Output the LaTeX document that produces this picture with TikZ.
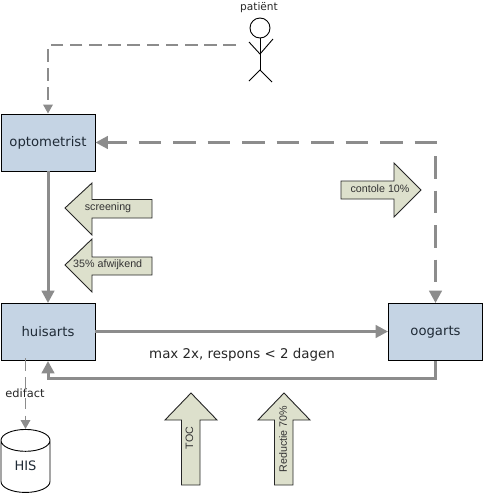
\documentclass[tikz,border=0pt]{standalone}
\usepackage{fontspec}
\setmainfont{DejaVu Sans}
\newfontfamily\arrowfont{Liberation Sans}
\usetikzlibrary{arrows.meta,shapes.geometric}
\definecolor{boxblue}{HTML}{C5D4E4}
\definecolor{arrowfill}{HTML}{DDE0CC}
\definecolor{linkgray}{HTML}{8C8C8C}
\definecolor{inkdark}{HTML}{1F2A36}
\tikzset{
  actorbox/.style={draw=black,line width=0.9pt,fill=boxblue,minimum width=94pt,minimum height=57pt,inner sep=0pt,text=inkdark,font=\fontsize{13.2}{15}\selectfont},
  thicktip/.tip={Triangle[width=12.5pt,length=12.5pt]},
  thicklink/.style={draw=linkgray,line width=3pt,-thicktip},
  thinlink/.style={draw=linkgray,line width=1.8pt,-{Triangle[width=9.5pt,length=9pt]}},
  longdash/.style={dash pattern=on 22.5pt off 12pt,dash phase=3pt},
  shortdash/.style={dash pattern=on 12.7pt off 6.5pt},
  blockarrow/.style={draw=black!85,line width=0.9pt,fill=arrowfill,line join=miter},
  blocktext/.style={inner sep=0pt,text=black!80,font=\arrowfont\fontsize{10.7}{12}\selectfont},
  plainlabel/.style={inner sep=1pt,text=black!85,font=\fontsize{13.4}{15}\selectfont},
  figure line/.style={draw=black,line width=0.9pt},
}
\begin{document}
\begin{tikzpicture}[x=1pt,y=-1pt]
\useasboundingbox (0,0) rectangle (484,493);
% actors
\node[actorbox] (opt) at (48,142.5) {optometrist};
\node[actorbox] (hui) at (48,332) {huisarts};
\node[actorbox] (oog) at (435.5,332) {oogarts};
\node[draw=black,line width=0.9pt,fill=white,cylinder,shape border rotate=90,aspect=1,minimum width=49pt,minimum height=63pt,inner sep=0pt,anchor=north,font=\fontsize{13}{15}\selectfont,text=inkdark] (his) at (25.5,429) {\raisebox{2.5pt}{HIS}};
% patient
\node[plainlabel,font=\fontsize{10.6}{12}\selectfont] (plabel) at (259,7.5) {patiënt};
\node[figure line,circle,minimum size=20pt,inner sep=0pt] (head) at (260,28) {};
\coordinate (hip) at (260,70);
\coordinate (neck) at (260,54);
\draw[figure line] (head.south) -- (hip);
\draw[figure line] (249,42) -- (neck) -- (273,39);
\draw[figure line] (249,81) -- (hip) -- (272,82);
\coordinate (pstart) at (236,45);
% connectors
\draw[thinlink,shortdash] (pstart) -| (opt.north);
\draw[thicklink] (opt.south) -- (hui.north);
\draw[thicklink] (hui.east |- 0,331.5) -- (oog.west |- 0,331.5);
\draw[thicklink,thicktip-thicktip,longdash] (opt.east) -| (oog.north);
\coordinate (back) at (436,378);
\draw[thicklink] (oog.south) -- (oog.south |- back) -| (hui.south);
\coordinate (edi) at (25.5,358);
\draw[thinlink,shortdash] (edi) -- (his.north);
\node[plainlabel,fill=white,font=\fontsize{11.4}{13}\selectfont] (ediL) at (25,393) {edifact};
% caption
\node[plainlabel] (cap) at (242,355) {max 2x, respons < 2 dagen};
% block arrows
\draw[blockarrow] (65,208) -- (92,183) -- (92,199.5) -- (152,199.5) -- (152,218) -- (92,218) -- (92,235) -- cycle;
\node[blocktext] (a1) at (108,208) {screening};
\draw[blockarrow] (65,265) -- (92,239) -- (92,257) -- (152,257) -- (152,275) -- (92,275) -- (92,292) -- cycle;
\node[blocktext] (a2) at (107.7,265) {35\% afwijkend};
\draw[blockarrow] (421,190) -- (394,163) -- (394,181) -- (341,181) -- (341,199) -- (394,199) -- (394,217) -- cycle;
\node[blocktext] (a3) at (380,189) {contole 10\%};
\draw[blockarrow] (191,393) -- (217,420) -- (200,420) -- (200,485) -- (181.5,485) -- (181.5,420) -- (165,420) -- cycle;
\node[blocktext,rotate=90] (a4) at (189.5,438) {TOC};
\draw[blockarrow] (284,393) -- (310,420) -- (293,420) -- (293,485) -- (274.5,485) -- (274.5,420) -- (258,420) -- cycle;
\node[blocktext,rotate=90] (a5) at (283,439) {Reductie 70\%};
\end{tikzpicture}
\end{document}
